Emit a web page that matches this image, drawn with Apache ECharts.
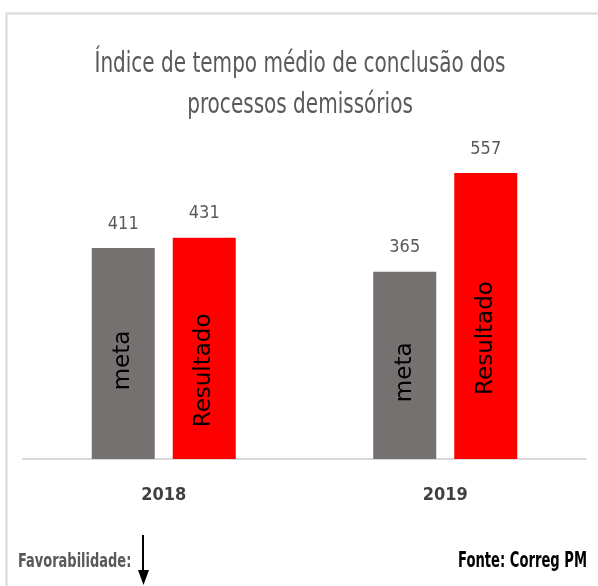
<!DOCTYPE html>
<html>
<head>
<meta charset="utf-8">
<script src="https://cdn.jsdelivr.net/npm/echarts@6/dist/echarts.min.js"></script>
<style>
html, body { margin: 0; padding: 0; background: #fff; }
#chart { width: 598px; height: 586px; }
</style>
</head>
<body>
<div id="chart"></div>
<script>
// dados
const anos = ['2018', '2019'];
const meta = [411, 365];
const resultado = [431, 557];

const narrow = '"DejaVu Sans Condensed", "Liberation Sans", sans-serif';

const chart = echarts.init(document.getElementById('chart'));

// rótulo girado: o offset fica no sistema do texto, [-dy, 0] desce dy px
const innerLabel = (dy) => ({
    show: true,
    position: 'inside',
    rotate: 90,
    offset: [-dy, 0],
    color: '#000',
    fontFamily: 'DejaVu Sans',
    fontSize: 23,
    formatter: '{a}'
});

const topLabel = {
    show: true,
    position: 'top',
    distance: 15,
    color: '#595959',
    fontFamily: narrow,
    fontSize: 18
};

const catAxis = (show) => ({
    type: 'category',
    data: anos,
    show: show,
    axisLine: { lineStyle: { color: '#d9d9d9', width: 2 } },
    axisTick: { show: false },
    axisLabel: {
        color: '#404040',
        fontFamily: narrow,
        fontWeight: 'bold',
        fontSize: 18,
        margin: 27
    }
});

const option = {
    animation: false,
    grid: {
        left: 23,
        right: 12,
        top: 151,
        bottom: 127
    },
    xAxis: [catAxis(true), catAxis(false)],
    yAxis: {
        type: 'value',
        min: 0,
        max: 600,
        show: false
    },
    series: [
        {
            name: 'meta',
            type: 'bar',
            data: meta,
            barWidth: 63,
            barGap: '28.6%',
            itemStyle: { color: '#767171' },
            label: innerLabel(7)
        },
        {
            name: 'Resultado',
            type: 'bar',
            data: resultado,
            barWidth: 63,
            itemStyle: { color: '#ff0000' },
            label: innerLabel(22)
        },
        // camada transparente só para os valores no topo
        {
            name: 'meta',
            type: 'bar',
            xAxisIndex: 1,
            data: meta,
            barWidth: 63,
            barGap: '28.6%',
            itemStyle: { color: 'rgba(0,0,0,0)' },
            label: topLabel,
            silent: true
        },
        {
            name: 'Resultado',
            type: 'bar',
            xAxisIndex: 1,
            data: resultado,
            barWidth: 63,
            itemStyle: { color: 'rgba(0,0,0,0)' },
            label: topLabel,
            silent: true
        }
    ],
    graphic: [
        {
            type: 'rect',
            left: 4,
            top: 11,
            shape: { width: 620, height: 600 },
            style: { fill: 'none', stroke: '#d9d9d9', lineWidth: 2 },
            silent: true
        },
        {
            // título (fonte condensada, comprimida na horizontal)
            type: 'text',
            x: 300,
            y: 44,
            scaleX: 0.795,
            style: {
                text: 'Índice de tempo médio de conclusão dos\nprocessos demissórios',
                fill: '#595959',
                font: '28px ' + narrow,
                lineHeight: 41,
                align: 'center',
                verticalAlign: 'top'
            }
        },
        {
            type: 'text',
            x: 18,
            y: 562,
            scaleX: 0.76,
            style: {
                text: 'Favorabilidade:',
                fill: '#595959',
                font: 'bold 19px ' + narrow,
                align: 'left',
                verticalAlign: 'middle'
            }
        },
        {
            type: 'line',
            shape: { x1: 143, y1: 535, x2: 143, y2: 572 },
            style: { stroke: '#000', lineWidth: 2 }
        },
        {
            type: 'polygon',
            shape: { points: [[138, 570], [149, 570], [143.5, 585]] },
            style: { fill: '#000' }
        },
        {
            type: 'text',
            x: 587,
            y: 562,
            scaleX: 0.695,
            style: {
                text: 'Fonte: Correg PM',
                fill: '#000',
                font: 'bold 21px ' + narrow,
                align: 'right',
                verticalAlign: 'middle'
            }
        }
    ]
};

chart.setOption(option);
</script>
</body>
</html>
